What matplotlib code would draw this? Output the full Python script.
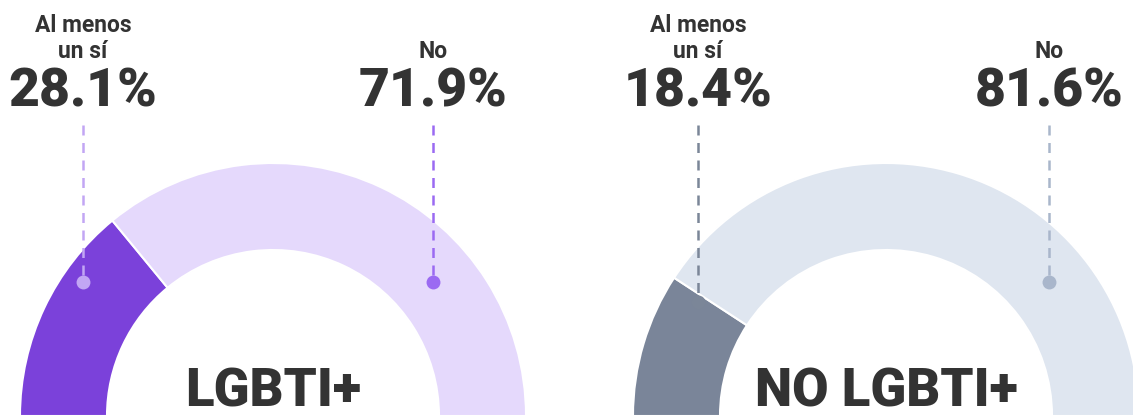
import matplotlib

matplotlib.use("Agg")
import matplotlib.pyplot as plt
from matplotlib.patches import Wedge

# Datos (porcentaje que respondio al menos un si / no)
groups = ["LGBTI+", "NO LGBTI+"]
labels = ["Al menos\nun sí", "No"]
values_lgbti = [28.1, 71.9]
values_no_lgbti = [18.4, 81.6]

colors_lgbti = ["#7b41da", "#e5d9fc"]
colors_no_lgbti = ["#7a8599", "#dfe6f0"]
line_colors_lgbti = ["#c2a6f4", "#9b6af2"]
line_colors_no_lgbti = ["#7b8698", "#a9b6cb"]

TEXT = "#333333"
FONT = "Roboto"

W, H = 1133, 419
DPI = 100
SCALE = 253.0  # pixeles por unidad de radio
INNER = 166.0 / 253.0


def draw_gauge(fig, left_px, width_px, center_px, title, values, colors,
               line_colors, label_x, dot_px):
    cx, cy = center_px
    ax = fig.add_axes([left_px / W, 0, width_px / W, 1])
    ax.set_xlim((left_px - cx) / SCALE, (left_px + width_px - cx) / SCALE)
    ax.set_ylim(-(H - cy) / SCALE, cy / SCALE)
    ax.axis("off")

    # semi-dona: empieza a la izquierda (180 grados) y gira en sentido horario
    start = 180.0
    for val, col in zip(values, colors):
        end = start - val / 100.0 * 180.0
        ax.add_patch(Wedge((0, 0), 1.0, end, start, width=1.0 - INNER,
                           facecolor=col, edgecolor="white", linewidth=1.5))
        start = end

    top_y = (cy - 125) / SCALE
    for x, lab, val, lc, dp in zip(label_x, labels, values, line_colors, dot_px):
        dot_y = (cy - dp) / SCALE
        ax.plot([x, x], [top_y, dot_y], color=lc, linewidth=1.8,
                dashes=(4, 3), solid_capstyle="butt")
        ax.plot([x], [dot_y], marker="o", markersize=10, color=lc,
                markeredgewidth=0)
        ax.text(x, (cy - 92) / SCALE, f"{val:.1f}%", ha="center", va="center",
                fontsize=38.5, fontweight="black", family=FONT, color=TEXT)
        ax.text(x, (cy - 63) / SCALE, lab, ha="center", va="bottom",
                fontsize=16.5, fontweight="bold", family=FONT, color=TEXT,
                linespacing=1.15)

    ax.text(0, -(H - cy) / SCALE + 0.004, title, ha="center", va="bottom",
            fontsize=38, fontweight="black", family=FONT, color=TEXT)


def main():
    fig = plt.figure(figsize=(W / DPI, H / DPI), dpi=DPI)
    fig.patch.set_facecolor("white")

    draw_gauge(fig, 0, 566, (273, 416), groups[0], values_lgbti,
               colors_lgbti, line_colors_lgbti, [-0.751, 0.632], [282, 282])
    draw_gauge(fig, 566, 567, (886, 416), groups[1], values_no_lgbti,
               colors_no_lgbti, line_colors_no_lgbti, [-0.743, 0.644], [302, 282])

    fig.savefig("out.png", dpi=DPI, facecolor="white")
    plt.close(fig)


if __name__ == "__main__":
    main()
